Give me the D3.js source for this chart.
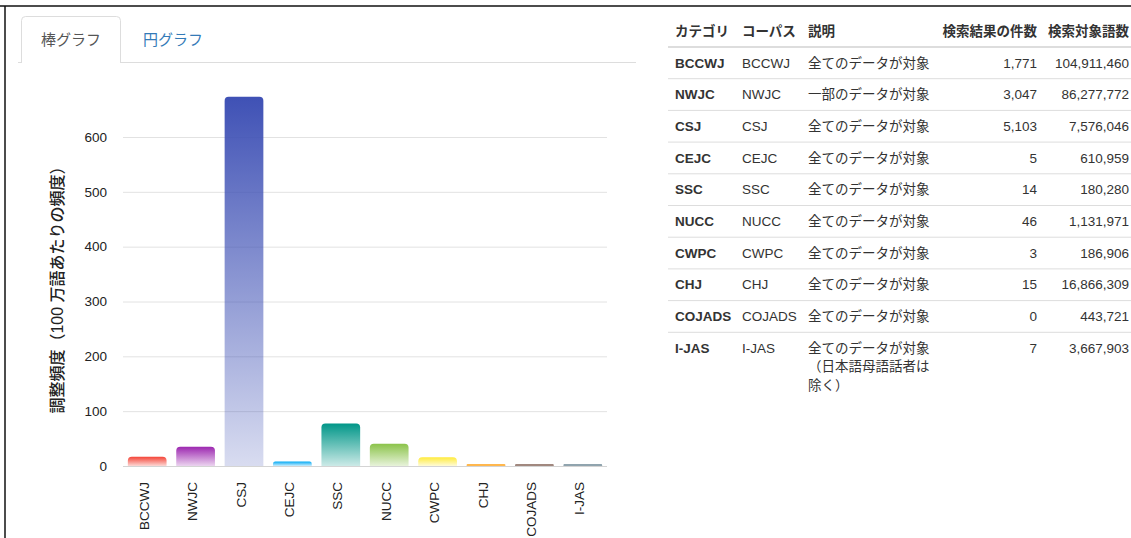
<!DOCTYPE html>
<html>
<head>
<meta charset="utf-8">
<script src="https://cdn.jsdelivr.net/npm/d3@7"></script>
<style>
  body { margin: 0; background: #fff; }
  svg { display: block; font-family: "Helvetica Neue", Arial, "Liberation Sans", "Noto Sans CJK JP", sans-serif; }
</style>
</head>
<body>
<div class="main"></div>
<script>
// chart data
const categories = ["BCCWJ", "NWJC", "CSJ", "CEJC", "SSC", "NUCC", "CWPC", "CHJ", "COJADS", "I-JAS"];
const freqValues = [16.9, 35.3, 673.6, 8.2, 77.7, 40.6, 16.1, 0.9, 0, 1.9];
const barColors = ["#f44336", "#9c27b0", "#3f51b5", "#03a9f4", "#009688", "#8bc34a", "#ffeb3b", "#ffb74d", "#a1887f", "#90a4ae"];
const yTicks = [0, 100, 200, 300, 400, 500, 600];

// table data
const tableHeaders = ["カテゴリ", "コーパス", "説明", "検索結果の件数", "検索対象語数"];
const corpora = ["BCCWJ", "NWJC", "CSJ", "CEJC", "SSC", "NUCC", "CWPC", "CHJ", "COJADS", "I-JAS"];
const descriptions = [
  ["全てのデータが対象"], ["一部のデータが対象"], ["全てのデータが対象"], ["全てのデータが対象"],
  ["全てのデータが対象"], ["全てのデータが対象"], ["全てのデータが対象"], ["全てのデータが対象"],
  ["全てのデータが対象"], ["全てのデータが対象", "（日本語母語話者は", "除く）"]
];
const hitCounts = [1771, 3047, 5103, 5, 14, 46, 3, 15, 0, 7];
const wordCounts = [104911460, 86277772, 7576046, 610959, 180280, 1131971, 186906, 16866309, 443721, 3667903];

const width = 1131;
const height = 538;

let svg = d3.select(".main").append("svg")
  .attr("width", width)
  .attr("height", height);

// frame lines of the screenshot
svg.append("line").attr("x1", 0).attr("x2", width).attr("y1", 6).attr("y2", 6)
  .attr("stroke", "#111").attr("stroke-width", 1.5);
svg.append("line").attr("x1", 5).attr("x2", 5).attr("y1", 6).attr("y2", height)
  .attr("stroke", "#111").attr("stroke-width", 1.5);

// tabs
svg.append("line").attr("x1", 18).attr("x2", 636).attr("y1", 62.5).attr("y2", 62.5)
  .attr("stroke", "#ddd");
svg.append("path")
  .attr("d", "M21.5,63 L21.5,20.5 Q21.5,16.5 25.5,16.5 L116.5,16.5 Q120.5,16.5 120.5,20.5 L120.5,63")
  .attr("fill", "#fff").attr("stroke", "#ddd");
svg.append("text").attr("x", 71).attr("y", 45).attr("text-anchor", "middle")
  .attr("font-size", 15).attr("fill", "#555").text("棒グラフ");
svg.append("text").attr("x", 173).attr("y", 45).attr("text-anchor", "middle")
  .attr("font-size", 15).attr("fill", "#337ab7").text("円グラフ");

// bar chart
const x = d3.scaleBand().domain(categories).range([123, 607]).paddingInner(0.2).paddingOuter(0.1);
const y = d3.scaleLinear().domain([0, 600]).range([466, 137]);

const defs = svg.append("defs");
categories.forEach((c, i) => {
  let g = defs.append("linearGradient")
    .attr("id", "grad" + i)
    .attr("x1", 0).attr("y1", 0).attr("x2", 0).attr("y2", 1);
  g.append("stop").attr("offset", "0%").attr("stop-color", barColors[i]).attr("stop-opacity", 1);
  g.append("stop").attr("offset", "100%").attr("stop-color", barColors[i]).attr("stop-opacity", 0.2);
});

// gridlines
svg.append("g")
  .selectAll("line")
  .data(yTicks)
  .enter().append("line")
  .attr("x1", 123).attr("x2", 607)
  .attr("y1", d => y(d) + 0.5).attr("y2", d => y(d) + 0.5)
  .attr("stroke", d => d === 0 ? "#d4d4d4" : "#e2e2e2");

// y tick labels
svg.append("g")
  .selectAll("text")
  .data(yTicks)
  .enter().append("text")
  .attr("x", 107).attr("y", d => y(d))
  .attr("dy", "0.35em")
  .attr("text-anchor", "end")
  .attr("font-size", 13.5).attr("fill", "#222")
  .text(d => d);

// y title
svg.append("text")
  .attr("transform", "translate(63,286) rotate(-90)")
  .attr("text-anchor", "middle")
  .attr("font-size", 16).attr("font-weight", 500).attr("fill", "#222")
  .text("調整頻度（100 万語あたりの頻度）");

function barPath(x0, w, top, bottom) {
  let h = bottom - top;
  let r = Math.min(4, h / 2, w / 2);
  return `M${x0},${bottom} L${x0},${top + r} Q${x0},${top} ${x0 + r},${top} ` +
    `L${x0 + w - r},${top} Q${x0 + w},${top} ${x0 + w},${top + r} L${x0 + w},${bottom} Z`;
}

svg.append("g")
  .selectAll("path")
  .data(categories)
  .enter().append("path")
  .attr("d", (d, i) => {
    let top = Math.min(y(freqValues[i]), y(0) - 2);
    return barPath(x(d), x.bandwidth(), top, y(0));
  })
  .attr("fill", (d, i) => freqValues[i] < 3 ? barColors[i] : `url(#grad${i})`);

// x labels
svg.append("g")
  .selectAll("text")
  .data(categories)
  .enter().append("text")
  .attr("transform", d => `translate(${x(d) + x.bandwidth() / 2 + 1.5},482) rotate(-90)`)
  .attr("text-anchor", "end")
  .attr("font-size", 13.5).attr("fill", "#222")
  .text(d => d);

// table
const colX = [675, 742, 808, 1037, 1129];
const colAnchor = ["start", "start", "start", "end", "end"];
const rowStep = 31.7;
const headLine = 47;

svg.append("g")
  .selectAll("text")
  .data(tableHeaders)
  .enter().append("text")
  .attr("x", (d, i) => colX[i]).attr("y", 36)
  .attr("text-anchor", (d, i) => colAnchor[i])
  .attr("font-size", 13.5).attr("font-weight", "bold").attr("fill", "#333")
  .text(d => d);

svg.append("line").attr("x1", 668).attr("x2", width).attr("y1", headLine).attr("y2", headLine)
  .attr("stroke", "#ddd").attr("stroke-width", 2);

svg.append("g")
  .selectAll("line")
  .data(corpora.slice(1))
  .enter().append("line")
  .attr("x1", 668).attr("x2", width)
  .attr("y1", (d, i) => headLine + (i + 1) * rowStep)
  .attr("y2", (d, i) => headLine + (i + 1) * rowStep)
  .attr("stroke", "#ddd");

const fmt = d3.format(",");
let rows = svg.append("g")
  .selectAll("g")
  .data(corpora)
  .enter().append("g")
  .attr("transform", (d, i) => `translate(0,${headLine + 16 + i * rowStep + 4.5})`)
  .attr("font-size", 13.5).attr("fill", "#333");

rows.append("text").attr("x", colX[0]).attr("font-weight", "bold").text(d => d);
rows.append("text").attr("x", colX[1]).text(d => d);
rows.append("text").attr("x", colX[2])
  .selectAll("tspan")
  .data((d, i) => descriptions[i])
  .enter().append("tspan")
  .attr("x", colX[2])
  .attr("dy", (d, j) => j === 0 ? 0 : 18.5)
  .text(d => d);
rows.append("text").attr("x", colX[3]).attr("text-anchor", "end").text((d, i) => fmt(hitCounts[i]));
rows.append("text").attr("x", colX[4]).attr("text-anchor", "end").text((d, i) => fmt(wordCounts[i]));
</script>
</body>
</html>
